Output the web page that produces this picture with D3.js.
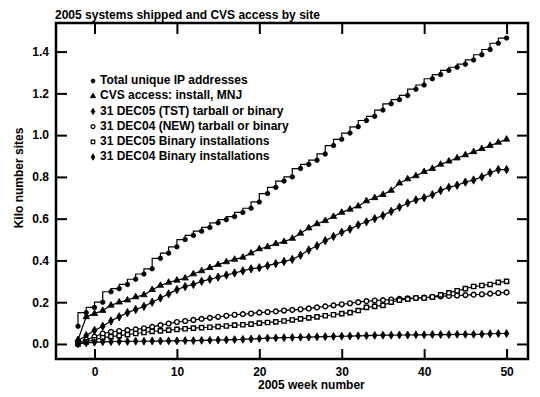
<!DOCTYPE html>
<html>
<head>
<meta charset="utf-8">
<script src="https://cdn.jsdelivr.net/npm/d3@7"></script>
<style>
  body { margin: 0; background: #fff; }
  text { font-family: "Liberation Sans", Arial, sans-serif; font-weight: bold; fill: #000; }
</style>
</head>
<body>
<div id="chart"></div>
<script>
// weeks of 2005 (-2 .. 50)
const weeks = d3.range(-2, 51);

const totalIP = [0.085, 0.15, 0.175, 0.20, 0.25, 0.265, 0.285, 0.31, 0.335, 0.36, 0.41, 0.435, 0.465, 0.50, 0.52, 0.54,
  0.558, 0.58, 0.595, 0.61, 0.63, 0.65, 0.68, 0.72, 0.75, 0.78, 0.80, 0.84, 0.86, 0.88, 0.91, 0.95, 0.98, 1.01, 1.04,
  1.07, 1.09, 1.12, 1.15, 1.17, 1.19, 1.22, 1.24, 1.27, 1.29, 1.31, 1.325, 1.34, 1.36, 1.385, 1.41, 1.44, 1.465];

const cvsAccess = [0.02, 0.13, 0.145, 0.16, 0.185, 0.20, 0.21, 0.225, 0.235, 0.26, 0.28, 0.295, 0.305, 0.315, 0.335,
  0.35, 0.365, 0.38, 0.393, 0.405, 0.415, 0.435, 0.455, 0.465, 0.48, 0.49, 0.505, 0.53, 0.555, 0.575, 0.59, 0.61, 0.63,
  0.645, 0.66, 0.685, 0.70, 0.715, 0.735, 0.77, 0.79, 0.805, 0.825, 0.84, 0.86, 0.875, 0.89, 0.905, 0.92, 0.935, 0.95,
  0.965, 0.98];

const dec05Tarball = [0.015, 0.04, 0.065, 0.085, 0.11, 0.13, 0.15, 0.165, 0.18, 0.20, 0.22, 0.24, 0.26, 0.275, 0.285,
  0.30, 0.31, 0.32, 0.33, 0.34, 0.35, 0.36, 0.365, 0.375, 0.385, 0.395, 0.405, 0.425, 0.45, 0.47, 0.495, 0.515, 0.535,
  0.55, 0.57, 0.585, 0.60, 0.615, 0.635, 0.655, 0.675, 0.69, 0.70, 0.715, 0.735, 0.75, 0.76, 0.775, 0.785, 0.80, 0.82,
  0.835, 0.835];

const dec04Tarball = [0.005, 0.02, 0.035, 0.05, 0.058, 0.062, 0.066, 0.07, 0.075, 0.082, 0.09, 0.098, 0.105, 0.11,
  0.115, 0.12, 0.125, 0.13, 0.135, 0.14, 0.143, 0.146, 0.15, 0.153, 0.156, 0.16, 0.163, 0.166, 0.17, 0.175, 0.18, 0.185,
  0.19, 0.195, 0.20, 0.205, 0.208, 0.21, 0.213, 0.216, 0.218, 0.22, 0.222, 0.225, 0.228, 0.23, 0.232, 0.234, 0.236,
  0.238, 0.241, 0.244, 0.247];

const dec05Binary = [0.0, 0.01, 0.02, 0.03, 0.035, 0.04, 0.045, 0.05, 0.055, 0.06, 0.063, 0.066, 0.07, 0.073, 0.076,
  0.078, 0.08, 0.083, 0.086, 0.09, 0.092, 0.095, 0.10, 0.103, 0.106, 0.11, 0.115, 0.12, 0.125, 0.13, 0.135, 0.14, 0.145,
  0.15, 0.16, 0.175, 0.18, 0.185, 0.20, 0.21, 0.215, 0.22, 0.22, 0.225, 0.235, 0.245, 0.255, 0.265, 0.275, 0.28, 0.285,
  0.295, 0.30];

const dec04Binary = [0.0, 0.005, 0.008, 0.01, 0.011, 0.012, 0.012, 0.013, 0.013, 0.014, 0.014, 0.015, 0.015, 0.016,
  0.016, 0.017, 0.018, 0.019, 0.02, 0.021, 0.022, 0.024, 0.026, 0.028, 0.029, 0.03, 0.031, 0.032, 0.033, 0.034, 0.035,
  0.036, 0.037, 0.038, 0.039, 0.04, 0.041, 0.042, 0.042, 0.043, 0.043, 0.044, 0.044, 0.045, 0.045, 0.045, 0.046, 0.046,
  0.046, 0.047, 0.049, 0.05, 0.05];

const seriesNames = ["Total unique IP addresses", "CVS access: install, MNJ", "31 DEC05 (TST) tarball or binary",
  "31 DEC04 (NEW) tarball or binary", "31 DEC05 Binary installations", "31 DEC04 Binary installations"];

const xTicks = [0, 10, 20, 30, 40, 50];
const yTicks = [0.0, 0.2, 0.4, 0.6, 0.8, 1.0, 1.2, 1.4];

const width = 540, height = 397;
const margin = { left: 56, right: 12, top: 23, bottom: 38 };

const svg = d3.select('#chart').append('svg')
  .attr('width', width)
  .attr('height', height);

const x = d3.scaleLinear().domain([-4.67, 52.6]).range([margin.left, width - margin.right]);
const y = d3.scaleLinear().domain([-0.072, 1.537]).range([height - margin.bottom, margin.top]);

const plotW = width - margin.left - margin.right;
const plotH = height - margin.top - margin.bottom;

// title
svg.append('text')
  .attr('x', 55).attr('y', 19)
  .style('font-size', '12px')
  .text('2005 systems shipped and CVS access by site');

// axes, ticks pointing inward
const axBottom = svg.append('g')
  .attr('transform', `translate(0,${height - margin.bottom})`)
  .call(d3.axisBottom(x).tickValues(xTicks).tickSize(-10).tickPadding(6).tickFormat(d3.format('d')));
const axLeft = svg.append('g')
  .attr('transform', `translate(${margin.left},0)`)
  .call(d3.axisLeft(y).tickValues(yTicks).tickSize(-11).tickPadding(7).tickFormat(d3.format('.1f')));
const axTop = svg.append('g')
  .attr('transform', `translate(0,${margin.top})`)
  .call(d3.axisTop(x).tickValues(xTicks).tickSize(-11).tickFormat(''));
const axRight = svg.append('g')
  .attr('transform', `translate(${width - margin.right},0)`)
  .call(d3.axisRight(y).tickValues(yTicks).tickSize(-11).tickFormat(''));

[axBottom, axLeft, axTop, axRight].forEach(g => {
  g.select('.domain').remove();
  g.selectAll('line').attr('stroke', '#000').attr('stroke-width', 2);
  g.selectAll('text').style('font-size', '12px').attr('fill', '#000');
});
axBottom.selectAll('text').attr('dy', '0.9em');

svg.append('rect')
  .attr('x', margin.left).attr('y', margin.top)
  .attr('width', plotW).attr('height', plotH)
  .attr('fill', 'none').attr('stroke', '#000').attr('stroke-width', 2.5);

// axis labels
svg.append('text')
  .attr('x', 258).attr('y', 389)
  .style('font-size', '12px')
  .text('2005 week number');
svg.append('text')
  .attr('transform', 'translate(23,178) rotate(-90)')
  .attr('text-anchor', 'middle')
  .style('font-size', '12px')
  .text('Kilo number sites');

// series
const series = [
  { name: seriesNames[0], values: totalIP, symbol: d3.symbolCircle, size: 16, fill: true, curve: d3.curveStepBefore },
  { name: seriesNames[1], values: cvsAccess, symbol: d3.symbolTriangle, size: 18, fill: true, curve: d3.curveLinear },
  { name: seriesNames[2], values: dec05Tarball, symbol: d3.symbolDiamond, size: 20, fill: true, curve: d3.curveLinear },
  { name: seriesNames[3], values: dec04Tarball, symbol: d3.symbolCircle, size: 18, fill: false, curve: d3.curveLinear },
  { name: seriesNames[4], values: dec05Binary, symbol: d3.symbolSquare, size: 18, fill: false, curve: d3.curveLinear },
  { name: seriesNames[5], values: dec04Binary, symbol: d3.symbolDiamond, size: 18, fill: true, curve: d3.curveLinear }
];

series.forEach(s => {
  const pts = weeks.map((w, i) => [w, s.values[i]]);
  svg.append('path')
    .datum(pts)
    .attr('fill', 'none')
    .attr('stroke', '#000')
    .attr('stroke-width', 1.2)
    .attr('d', d3.line().x(d => x(d[0])).y(d => y(d[1])).curve(s.curve));

  svg.append('g').selectAll('path')
    .data(pts)
    .enter()
    .append('path')
    .attr('transform', d => `translate(${x(d[0])},${y(d[1])})`)
    .attr('d', d3.symbol().type(s.symbol).size(s.size))
    .attr('fill', s.fill ? '#000' : '#fff')
    .attr('stroke', '#000')
    .attr('stroke-width', s.fill ? 0.8 : 1.4);
});

// legend
const legend = svg.append('g');
series.forEach((s, i) => {
  const ly = 80 + i * 15.2;
  legend.append('path')
    .attr('transform', `translate(93,${ly + 1})`)
    .attr('d', d3.symbol().type(s.symbol).size(12))
    .attr('fill', s.fill ? '#000' : '#fff')
    .attr('stroke', '#000')
    .attr('stroke-width', s.fill ? 0.8 : 1.2);
  legend.append('text')
    .attr('x', 100).attr('y', ly)
    .attr('dy', '0.35em')
    .style('font-size', '12px')
    .text(s.name);
});
</script>
</body>
</html>
